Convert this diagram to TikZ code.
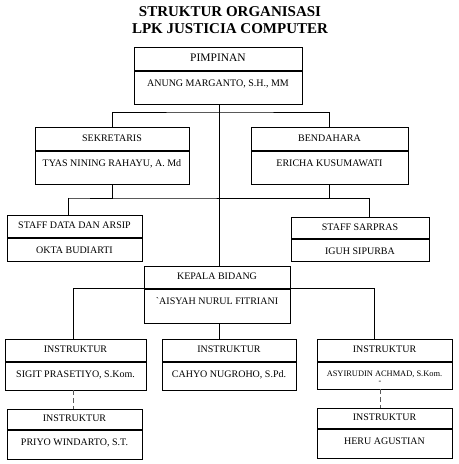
\documentclass[tikz,border=0pt]{standalone}
\usepackage{fontspec}
\setmainfont{Liberation Serif}
\newfontfamily\rawserif[Ligatures=ResetAll]{Liberation Serif}
\usepackage{tikz}
\usetikzlibrary{calc}

\tikzset{
  head/.style={draw, anchor=north, inner xsep=0pt, text height=7bp, text depth=2bp},
  cell/.style={draw, anchor=north, inner xsep=0pt, inner ysep=2bp, text height=13bp},
  link/.style={line width=0.7bp},
  dashlink/.style={line width=0.7bp, gray!70!black, dash pattern=on 5bp off 3bp}
}

\begin{document}
\begin{tikzpicture}[x=1bp, y=-1bp, line width=0.7bp, font=\fontsize{10bp}{12bp}\selectfont]
  \useasboundingbox (0,0) rectangle (459,464);

  \node [font=\bfseries\fontsize{15bp}{17bp}\selectfont, align=center] (title) at (230,20)
    {STRUKTUR ORGANISASI\\LPK JUSTICIA COMPUTER};

  % pimpinan
  \node [head, minimum width=168bp, minimum height=23bp, font=\fontsize{11.5bp}{13bp}\selectfont] (pimT) at (218,47) {PIMPINAN};
  \node [cell, minimum width=168bp, text depth=16bp] (pimB) at (pimT.south) {ANUNG MARGANTO, S.H., MM};

  % sekretaris, bendahara
  \node [head, minimum width=154bp, minimum height=23bp] (sekT) at (112,127) {SEKRETARIS};
  \node [cell, minimum width=154bp, text depth=16bp] (sekB) at (sekT.south) {TYAS NINING RAHAYU, A. Md};
  \node [head, minimum width=157bp, minimum height=23bp] (benT) at (329.5,127) {BENDAHARA};
  \node [cell, minimum width=157bp, text depth=16bp] (benB) at (benT.south) {ERICHA KUSUMAWATI};

  % staff
  \node [head, minimum width=135bp, minimum height=22bp] (datT) at (74.5,215) {STAFF DATA DAN ARSIP};
  \node [cell, minimum width=135bp, text depth=6bp] (datB) at (datT.south) {OKTA BUDIARTI};
  \node [head, minimum width=138bp, minimum height=21bp] (sarT) at (360,217) {STAFF SARPRAS};
  \node [cell, minimum width=138bp, text depth=5bp] (sarB) at (sarT.south) {IGUH SIPURBA};

  % kepala bidang
  \node [head, minimum width=146bp, minimum height=22bp] (kbT) at (217,266) {KEPALA BIDANG};
  \node [cell, minimum width=146bp, text depth=17bp] (kbB) at (kbT.south) {{\rawserif`}AISYAH NURUL FITRIANI};

  % instruktur
  \node [head, minimum width=141bp, minimum height=22bp] (in1T) at (75.5,339) {INSTRUKTUR};
  \node [cell, minimum width=141bp, text depth=11bp] (in1B) at (in1T.south) {SIGIT PRASETIYO, S.Kom.};
  \node [head, minimum width=134bp, minimum height=22bp] (in2T) at (229,339) {INSTRUKTUR};
  \node [cell, minimum width=134bp, text depth=11bp] (in2B) at (in2T.south) {CAHYO NUGROHO, S.Pd.};
  \node [head, minimum width=135bp, minimum height=22bp] (in3T) at (384.5,339) {INSTRUKTUR};
  \node [cell, minimum width=135bp, text depth=11bp, text height=12bp, font=\fontsize{8.4bp}{10bp}\selectfont] (in3B) at (in3T.south) {ASYIRUDIN ACHMAD, S.Kom.};
  \node [font=\fontsize{8bp}{9bp}\selectfont, inner sep=0pt] (in3dot) at (380,382) {-};
  \node [head, minimum width=135bp, minimum height=20bp] (in4T) at (74.5,409) {INSTRUKTUR};
  \node [cell, minimum width=135bp, text depth=12bp] (in4B) at (in4T.south) {PRIYO WINDARTO, S.T.};
  \node [head, minimum width=135bp, minimum height=20bp] (in5T) at (384.5,408) {INSTRUKTUR};
  \node [cell, minimum width=135bp, text depth=12bp] (in5B) at (in5T.south) {HERU AGUSTIAN};

  % bus points
  \coordinate (bus1) at (219,112);
  \coordinate (bus2L) at (68,198);
  \coordinate (bus2R) at (369,198);
  \coordinate (bus3L) at (73,288);
  \coordinate (bus3R) at (374,288);
  \coordinate (dash3) at (380,389);

  % lines
  \draw [link] (pimB.south -| bus1) -- (bus1 |- kbT.north);
  \draw [link] (sekT.north) |- (bus1) -| (benT.north);
  \draw [link] (sekB.south) |- (bus2L) -- (bus2R);
  \draw [link] (benB.south) -- (benB.south |- bus2R);
  \draw [link] (bus2L) -- (bus2L |- datT.north);
  \draw [link] (bus2R) -- (bus2R |- sarT.north);
  \draw [link] (bus3L) -- (bus3R);
  \draw [link] (bus3L) -- (bus3L |- in1T.north);
  \draw [link] (bus3R) -- (bus3R |- in3T.north);
  \draw [link] (kbB.south -| bus1) -- (bus1 |- in2T.north);
  \draw [dashlink] (bus3L |- in1B.south) -- (bus3L |- in4T.north);
  \draw [dashlink] (dash3) -- (dash3 |- in5T.north);
\end{tikzpicture}
\end{document}
